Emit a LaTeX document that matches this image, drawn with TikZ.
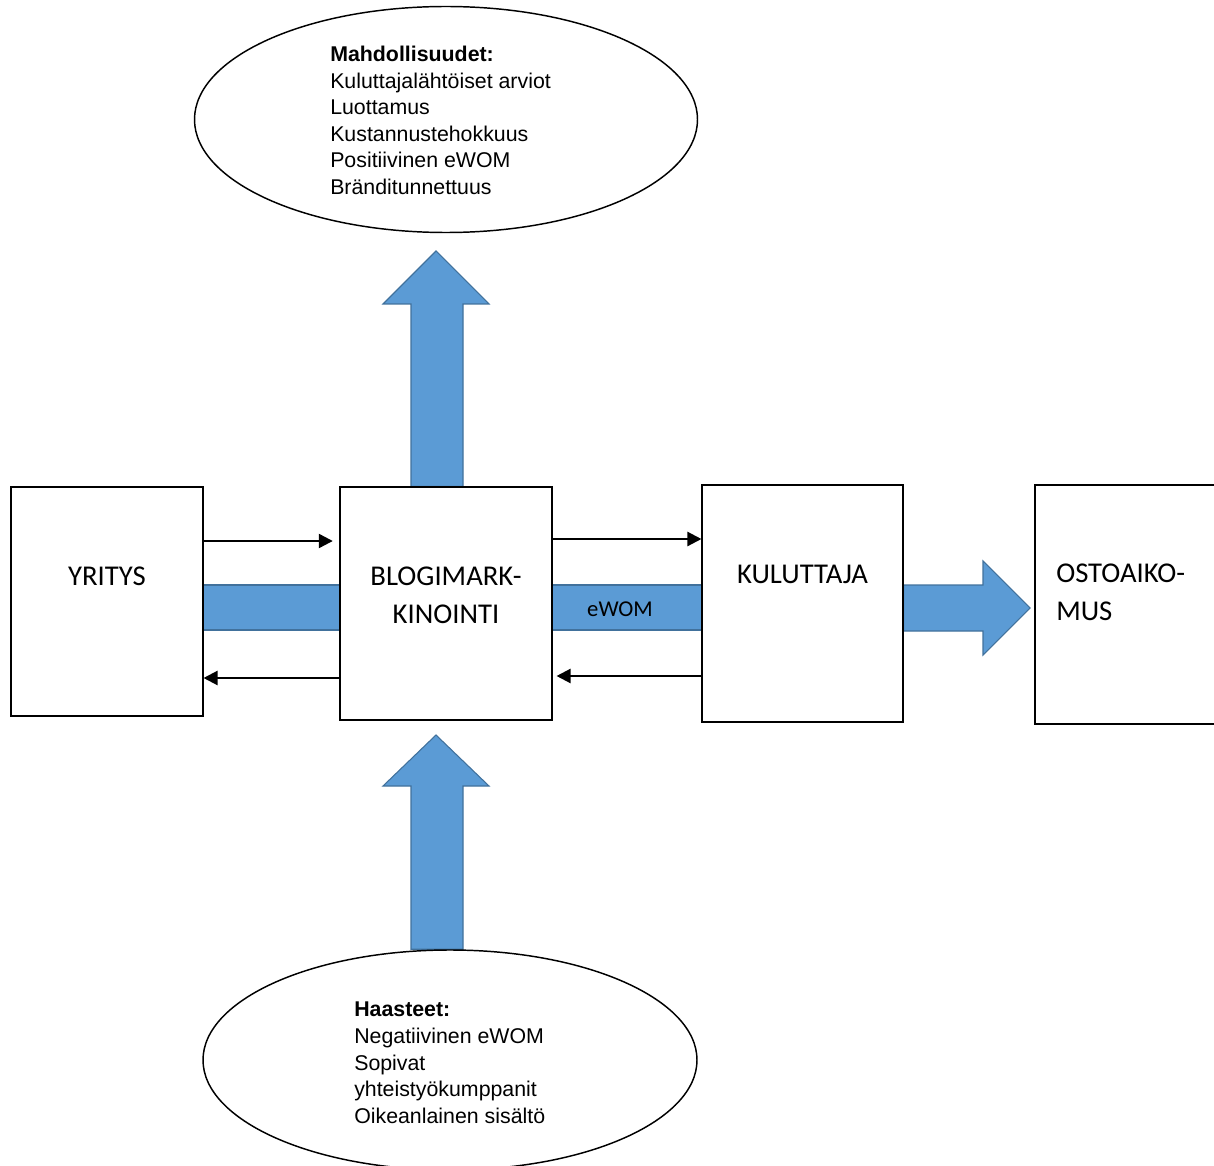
\documentclass[tikz,border=0pt]{standalone}
\usepackage{fontspec}
\setmainfont{Liberation Sans}
\newfontfamily\calibri{Carlito}
\usetikzlibrary{shapes.geometric,arrows.meta}
\definecolor{bandfill}{HTML}{5B9BD5}
\definecolor{bandline}{HTML}{41719C}
\pgfdeclarelayer{bg}
\pgfsetlayers{bg,main}
\begin{document}
\begin{tikzpicture}[x=0.75pt,y=-0.75pt,
  box/.style={draw,line width=0.8pt,fill=white,inner sep=0pt},
  oval/.style={ellipse,draw,line width=1.1pt,fill=white,inner sep=0pt},
  boxtext/.style={inner sep=0pt,font=\calibri\fontsize{21.5pt}{28.5pt}\selectfont},
  listtext/.style={inner sep=0pt,align=left,font=\fontsize{16pt}{19.9pt}\selectfont},
  band/.style={fill=bandfill,draw=bandline,line width=0.8pt},
  tarrow/.style={line width=1.7pt,-{Triangle[length=10.5pt,width=10.5pt]}}]
\useasboundingbox (0,0) rectangle (1214,1166);
\clip (0,0) rectangle (1214,1166);

% boxes
\node[box,minimum width={192*0.75pt},minimum height={229*0.75pt}] (yr) at (107,601.5) {};
\node[box,minimum width={212*0.75pt},minimum height={233*0.75pt}] (bl) at (446,603.5) {};
\node[box,minimum width={201*0.75pt},minimum height={237*0.75pt}] (kul) at (802.5,603.5) {};
\node[box,minimum width={205*0.75pt},minimum height={239*0.75pt}] (os) at (1137.5,604.5) {};

\node[boxtext] (yrt) at (107,576) {YRITYS};
\node[boxtext,align=center] (blt) at (446,595) {BLOGIMARK-\\KINOINTI};
\node[boxtext] (kult) at (802.5,574) {KULUTTAJA};
\node[boxtext,align=left,anchor=west] (ost) at (1056,592.5) {OSTOAIKO-\\MUS};

% ellipses
\node[oval,minimum width={503*0.75pt},minimum height={226*0.75pt}] (top) at (446,119.5) {};
\node[oval,minimum width={494*0.75pt},minimum height={220*0.75pt}] (bot) at (450,1060) {};

\node[listtext,anchor=north west] (topt) at (330,46)
  {\textbf{Mahdollisuudet:}\\Kuluttajalähtöiset arviot\\Luottamus\\Kustannustehokkuus\\Positiivinen eWOM\\Bränditunnettuus};
\node[listtext,anchor=north west] (bott) at (354,1002)
  {\textbf{Haasteet:}\\Negatiivinen eWOM\\Sopivat\\yhteistyökumppanit\\Oikeanlainen sisältö};

\begin{pgfonlayer}{bg}
% blue bands
\path[band] (yr.east|-0,585) rectangle (bl.west|-0,630);
\path[band] (bl.east|-0,585) rectangle (kul.west|-0,630);
\path[band] (kul.east|-0,585) -- (983,585) -- (983,561) -- (1030,608) -- (983,655) -- (983,631) -- (kul.east|-0,631) -- cycle;
\path[band] (bl.north-|411,0) -- (411,304) -- (383,304) -- (436,251) -- (489,304) -- (463,304) -- (bl.north-|463,0) -- cycle;
\path[band] (bot.north-|411,0) -- (411,786) -- (383,786) -- (436,735) -- (489,786) -- (463,786) -- (bot.north-|463,0) -- cycle;
\end{pgfonlayer}

\node[inner sep=0pt,font=\calibri\fontsize{17pt}{20pt}\selectfont] (ew) at (620,609) {eWOM};

% thin arrows
\draw[tarrow,shorten >=5pt] (yr.east|-0,541) -- (bl.west|-0,541);
\draw[tarrow] (bl.west|-0,678) -- (yr.east|-0,678);
\draw[tarrow] (bl.east|-0,539) -- (kul.west|-0,539);
\draw[tarrow,shorten >=3pt] (kul.west|-0,676) -- (bl.east|-0,676);
\end{tikzpicture}
\end{document}
